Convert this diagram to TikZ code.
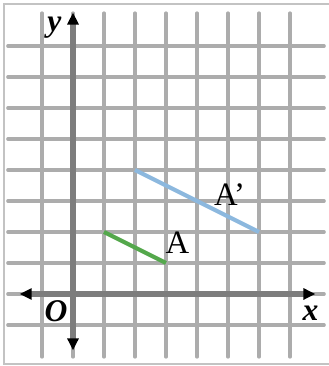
\documentclass[tikz,border=0pt]{standalone}
\usepackage{fontspec}
\setmainfont{Liberation Serif}
\usetikzlibrary{arrows.meta}
\definecolor{gridgray}{RGB}{172,172,172}
\definecolor{axisgray}{RGB}{125,125,125}
\definecolor{segA}{RGB}{84,168,76}
\definecolor{segB}{RGB}{140,184,222}
\definecolor{framegray}{RGB}{195,195,195}

\begin{document}
\begin{tikzpicture}[
  gridline/.style={gridgray, line width=3.2pt, line cap=round},
  axisline/.style={axisgray, line width=6pt,
    {Triangle[length=11pt,width=10pt,black]}-{Triangle[length=11pt,width=10pt,black]}},
  axislabel/.style={font=\fontsize{29}{29}\selectfont\bfseries\itshape},
  seglabel/.style={font=\fontsize{30}{30}\selectfont}
]
  \useasboundingbox (-2.355,-2.323) rectangle (8.258,9.484);
  % frame, open on the right
  \draw[framegray, line width=1.8pt] (8.4,9.355) -- (-2.226,9.355) -- (-2.226,-2.258) -- (8.4,-2.258);
  % grid
  \foreach \x in {-1,...,7} \draw[gridline] (\x,-2.03) -- (\x,9.06);
  \foreach \y in {-1,...,8} \draw[gridline] (-2.1,\y) -- (8.1,\y);
  % axes
  \draw[axisline] (-1.72,0) -- (7.82,0);
  \draw[axisline] (0,-1.82) -- (0,9.08);
  \node[axislabel] (xlab) at (7.66,-0.62) {x};
  \node[axislabel] (ylab) at (-0.6,8.6) {y};
  \node[axislabel] (olab) at (-0.55,-0.57) {O};
  % segment A and its image A'
  \draw[segA, line width=3.8pt] (1,2) -- (3,1);
  \draw[segB, line width=3.8pt] (2,4) -- (6,2);
  \node[seglabel] (labA) at (3.37,1.66) {A};
  \node[seglabel] (labAp) at (5.05,3.19) {A’};
\end{tikzpicture}
\end{document}
